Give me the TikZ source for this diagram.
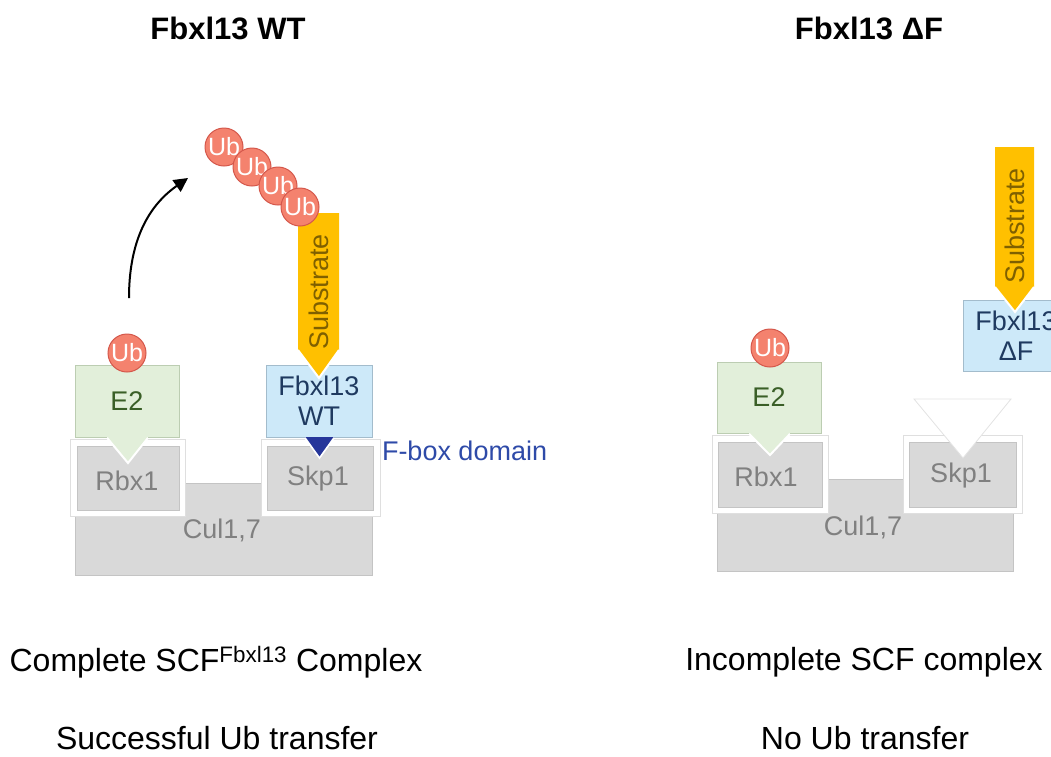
\documentclass[tikz,border=0pt]{standalone}
\usepackage{fontspec}
\setmainfont{Liberation Sans}
\usetikzlibrary{arrows.meta}
\definecolor{ubfill}{HTML}{F4826E}
\definecolor{ubline}{HTML}{D4574B}
\definecolor{e2fill}{HTML}{E2EFDA}
\definecolor{e2line}{HTML}{BCCDB2}
\definecolor{e2text}{HTML}{3A5F27}
\definecolor{fbfill}{HTML}{CDE9F9}
\definecolor{fbline}{HTML}{A3BCCC}
\definecolor{fbtext}{HTML}{1F3A60}
\definecolor{grayfill}{HTML}{D9D9D9}
\definecolor{grayline}{HTML}{C4C4C4}
\definecolor{graytext}{HTML}{808080}
\definecolor{subfill}{HTML}{FFC000}
\definecolor{subtext}{HTML}{7F6000}
\definecolor{fboxtri}{HTML}{26369A}
\definecolor{fboxtext}{HTML}{2E4AA8}
\newcommand\myfs[2]{\fontsize{#1}{#2}\selectfont}
\begin{document}
\begin{tikzpicture}[x=1pt,y=-1pt,
  every node/.style={inner sep=0pt, outer sep=0pt},
  title/.style={font=\myfs{31}{35}\bfseries, text=black},
  caption/.style={font=\myfs{32}{36}, text=black},
  lbl/.style={font=\myfs{27}{30}, align=center},
  graybox/.style={rectangle, fill=grayfill, draw=grayline, line width=0.8pt, lbl, text=graytext},
  outerbox/.style={rectangle, fill=white, draw=gray!25, line width=0.8pt},
  e2box/.style={rectangle, fill=e2fill, draw=e2line, line width=0.8pt, lbl, text=e2text},
  fbbox/.style={rectangle, fill=fbfill, draw=fbline, line width=0.8pt, lbl, text=fbtext},
  ub/.style={circle, fill=ubfill, draw=ubline, line width=1pt, minimum size=38pt, text=white, font=\myfs{25}{27}},
  subtxt/.style={rotate=90, font=\myfs{27}{30}, text=subtext},
  arr/.style={-{Triangle[length=14pt,width=14pt]}, line width=2pt, black}
]
\useasboundingbox (0,0) rectangle (1051,756);
\clip (0,0) rectangle (1051,756);

% ---------------- left panel ----------------
\node[title] (t1) at (228,28) {Fbxl13 WT};

\node[graybox, minimum width=297pt, minimum height=92pt] (cul1) at (223.5,529) {};
\node[outerbox, minimum width=115pt, minimum height=77pt] (rbxo1) at (127.5,477.5) {};
\node[outerbox, minimum width=119pt, minimum height=77pt] (skpo1) at (320.5,477.5) {};
\node[graybox, minimum width=102pt, minimum height=64pt] (rbx1) at (128,478) {};
\node[graybox, minimum width=106pt, minimum height=64pt] (skp1) at (320,478) {};
\node[lbl, text=graytext] (cullbl1) at (222,530) {Cul1,7};

\node[e2box, minimum width=104pt, minimum height=72pt] (e21) at (127,401) {E2};
\node[fbbox, minimum width=106pt, minimum height=72pt] (fb1) at (319,401) {Fbxl13\\WT};

% E2 -> Rbx1 pointer
\fill[e2fill] (107,437) -- (128,463) -- (148,437) -- cycle;
\draw[white, line width=2pt] (107,437.8) -- (128,463) -- (148,437.8);
\node[lbl, text=graytext] (rbxlbl1) at (127,481) {Rbx1};

% F-box domain
\fill[fboxtri] (305,437) -- (319.5,458) -- (334,437) -- cycle;
\draw[white, line width=1.6pt] (305,437.8) -- (319.5,458) -- (334,437.8);
\node[lbl, text=graytext] (skplbl1) at (318,479) {Skp1};
\node[anchor=west, font=\myfs{27}{30}, text=fboxtext] (fbd) at (382,451) {F-box domain};

% substrate
\fill[subfill] (298,213) -- (339,213) -- (339,350) -- (319,378) -- (298,350) -- cycle;
\draw[white, line width=2pt] (339,350) -- (319,378) -- (298,350);
\node[subtxt] (sub1) at (319,292) {Substrate};

% ubiquitins
\node[ub] (ube1) at (127,353) {Ub};
\node[ub] (ubc1) at (224,147) {Ub};
\node[ub] (ubc2) at (252,167) {Ub};
\node[ub] (ubc3) at (278,186) {Ub};
\node[ub] (ubc4) at (300,207) {Ub};

% transfer arrow
\coordinate (as) at (129,298);
\coordinate (ae) at (188,178);
\draw[arr] (as) to[out=90, in=-145] (ae);

\node[caption] (c1) at (216,662) {Complete SCF\textsuperscript{Fbxl13} Complex};
\node[caption] (c2) at (217,738) {Successful Ub transfer};

% ---------------- right panel ----------------
\node[title] (t2) at (869,28) {Fbxl13 ΔF};

\node[graybox, minimum width=296pt, minimum height=92pt] (cul2) at (865,525) {};
\node[outerbox, minimum width=116pt, minimum height=78pt] (rbxo2) at (770,474) {};
\node[outerbox, minimum width=119pt, minimum height=78pt] (skpo2) at (962.5,474) {};
\node[graybox, minimum width=104pt, minimum height=65pt] (rbx2) at (770,474.5) {};
\node[graybox, minimum width=107pt, minimum height=65pt] (skp2) at (962.5,474.5) {};
\node[lbl, text=graytext] (cullbl2) at (863,527) {Cul1,7};

\node[e2box, minimum width=104pt, minimum height=71pt] (e22) at (769,397.5) {E2};
\fill[e2fill] (749,433) -- (770,455) -- (790,433) -- cycle;
\draw[white, line width=2pt] (749,433.8) -- (770,455) -- (790,433.8);
\node[lbl, text=graytext] (rbxlbl2) at (766,477) {Rbx1};

% empty F-box slot
\filldraw[fill=white, draw=gray!22, line width=0.8pt] (914,399) -- (1011,399) -- (963,458) -- cycle;
\node[lbl, text=graytext] (skplbl2) at (961,476) {Skp1};

\node[ub] (ube2) at (770,348) {Ub};

\node[fbbox, minimum width=106pt, minimum height=71pt] (fb2) at (1016,335.5) {Fbxl13\\ΔF};
\fill[subfill] (995,147) -- (1034,147) -- (1034,287) -- (1015,312) -- (995,287) -- cycle;
\draw[white, line width=2pt] (1034,287) -- (1015,312) -- (995,287);
\node[subtxt] (sub2) at (1015,226) {Substrate};

\node[caption] (c3) at (864,662) {Incomplete SCF complex};
\node[caption] (c4) at (865,738) {No Ub transfer};
\end{tikzpicture}
\end{document}
